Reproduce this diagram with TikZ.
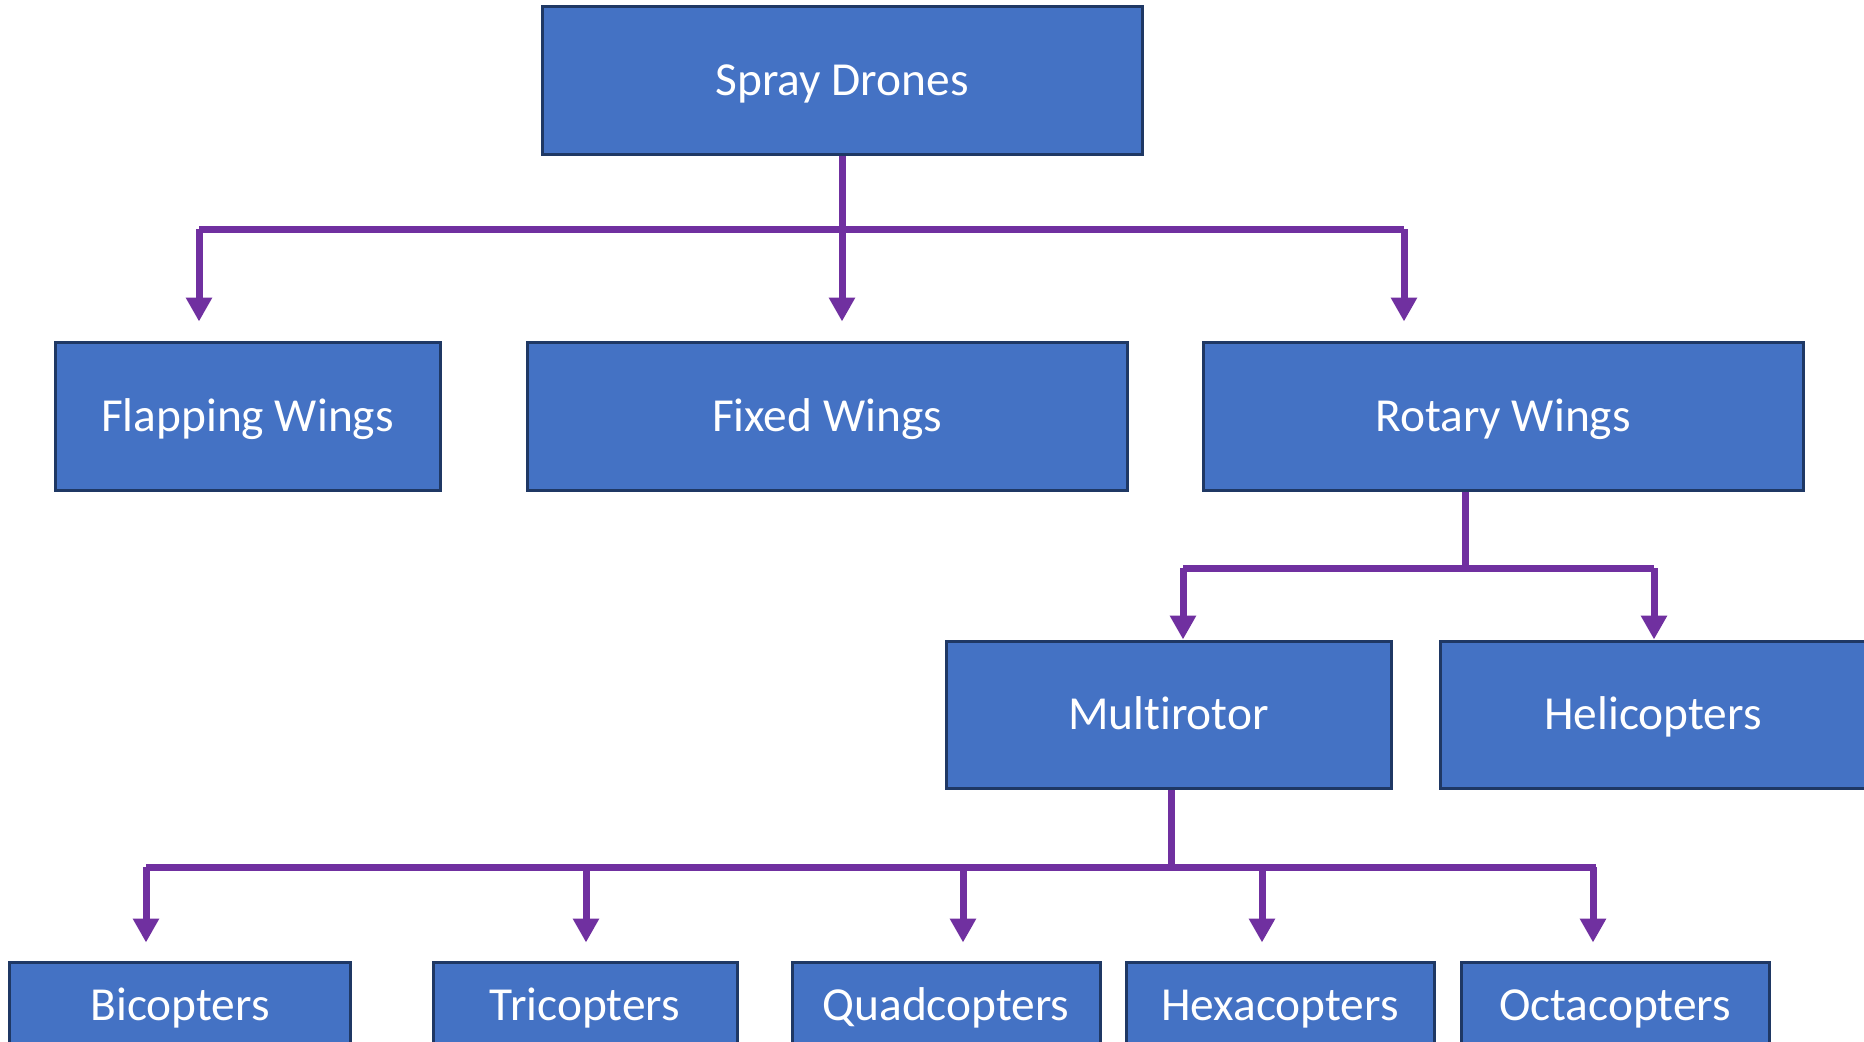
\documentclass[tikz,border=0pt]{standalone}
\usepackage{fontspec}
\setmainfont{Carlito}[Ligatures=NoCommon]
\usetikzlibrary{arrows.meta,positioning}

\definecolor{boxfill}{HTML}{4472C4}
\definecolor{boxline}{HTML}{1F3864}
\definecolor{linkpurple}{HTML}{7030A0}

\begin{document}
\begin{tikzpicture}[x=0.5pt,y=-0.5pt,
    cat/.style={draw=boxline, line width=1.5pt, fill=boxfill, text=white,
        font=\fontsize{23.7}{28}\selectfont, text height=15.3pt, text depth=0pt,
        minimum height=74pt, inner sep=0pt},
    bar/.style={linkpurple, line width=3.5pt},
    branch/.style={bar, -{Triangle[width=12.5pt,length=12pt]}}]
    \useasboundingbox (0,0) rectangle (1864,1041);
    \clip (0,0) rectangle (1864,1041);

    % level 1 and 2
    \node[cat, minimum width=300pt] (spray) at (842,80.5) {Spray Drones};
    \node[cat, minimum width=192.5pt] (flap) at (247.5,416) {Flapping Wings};
    \node[cat, minimum width=300pt] (fixed) at (827,416) {Fixed Wings};
    \node[cat, minimum width=300pt] (rotary) at (1503,416) {Rotary Wings};

    \coordinate (s1) at (199,229);
    \coordinate (s2) at (842,229);
    \coordinate (s3) at (1404,229);
    \draw[bar] (spray.south) -- (spray.south |- s2);
    \draw[bar, line cap=square] (s1) -- (s3);
    \draw[branch, shorten >=9.5pt] (s1) -- (s1 |- flap.north);
    \draw[branch, shorten >=9.5pt] (s2) -- (s2 |- fixed.north);
    \draw[branch, shorten >=9.5pt] (s3) -- (s3 |- rotary.north);

    % level 3
    \node[cat, minimum width=222.5pt, minimum height=73.5pt] (multi) at (1168.5,714.5) {Multirotor};
    \node[cat, minimum width=213pt, minimum height=73.5pt] (heli) at (1653,714.5) {Helicopters};

    \coordinate (r0) at (1465,490);
    \coordinate (r1) at (1183,568);
    \coordinate (r2) at (1654,568);
    \draw[bar] (r0 |- rotary.south) -- (r0 |- r1);
    \draw[bar, line cap=square] (r1) -- (r2);
    \draw[branch] (r1) -- (r1 |- multi.north);
    \draw[branch] (r2) -- (r2 |- heli.north);

    % level 4
    \coordinate (m0) at (1171,867);
    \coordinate (mL) at (146,867);
    \coordinate (mR) at (1596,867);
    \draw[bar] (m0 |- multi.south) -- (m0);
    \draw[bar, line cap=square] (mL) -- (mR);
    \foreach \name/\cx/\w/\ax/\txt in {bi/180/341/146/Bicopters,
                                       tri/585/304/586/Tricopters,
                                       quad/946/308/963/Quadcopters,
                                       hexa/1280/308/1262/Hexacopters,
                                       octa/1615/308/1593/Octacopters} {
        \node[cat, minimum width=\w*0.5pt, minimum height=43pt] (\name) at (\cx,1005) {\txt};
        \coordinate (a\name) at (\ax,867);
        \draw[branch, shorten >=9pt] (a\name) -- (a\name |- \name.north);
    }
\end{tikzpicture}
\end{document}
